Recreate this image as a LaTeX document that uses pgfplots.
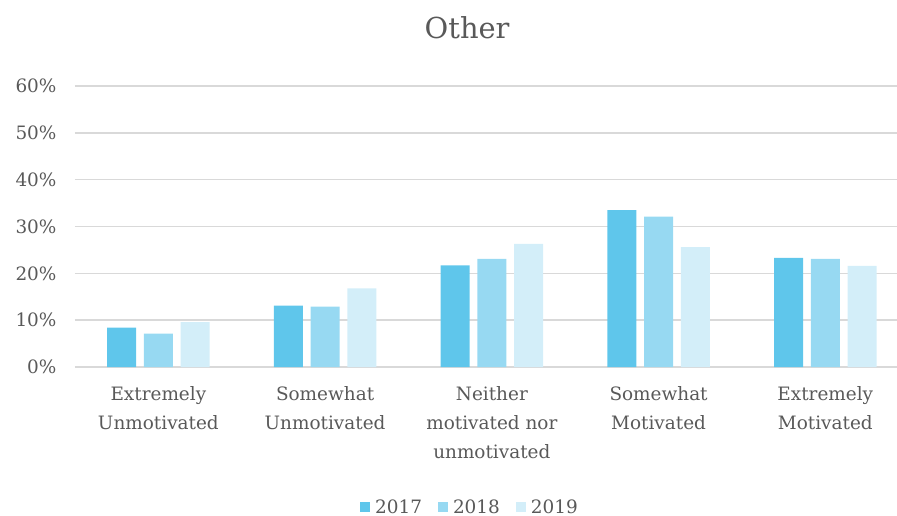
\documentclass[border=0pt]{standalone}
\usepackage{pgfplots}
\pgfplotsset{compat=1.18}
\usepackage{fontspec}
\setmainfont{DejaVu Serif}
\definecolor{cA}{HTML}{5FC6EB}
\definecolor{cB}{HTML}{97D9F2}
\definecolor{cC}{HTML}{D3EEF9}
\definecolor{txt}{HTML}{595959}
\definecolor{grd}{HTML}{D9D9D9}
\begin{document}
\begin{tikzpicture}
\useasboundingbox (-75bp,-149bp) rectangle (822bp,367bp);
\begin{axis}[
  scale only axis, width=822bp, height=281bp,
  xmin=-0.5, xmax=4.43, ymin=0, ymax=60,
  ytick={0,10,...,60},
  yticklabel={\pgfmathprintnumber{\tick}\%},
  /pgf/number format/assume math mode=true,
  xtick={0,1,2,3,4},
  xticklabels={{Extremely\\Unmotivated},{Somewhat\\Unmotivated},{Neither\\motivated nor\\unmotivated},{Somewhat\\Motivated},{Extremely\\Motivated}},
  xticklabel style={align=center, font=\fontsize{18.5}{29}\selectfont, text=txt, yshift=-16bp},
  yticklabel style={font=\fontsize{18.5}{20}\selectfont, text=txt, xshift=-15bp},
  major tick length=0pt,
  axis line style={draw=none},
  ymajorgrids, grid style={grd, line width=1.6bp},
  ybar, bar width=29bp,
  title={Other},
  title style={font=\fontsize{29}{32}\selectfont, text=txt, anchor=center, at={(axis description cs:0.477,1)}, yshift=52bp},
  legend columns=3,
  legend style={draw=none, at={(axis description cs:0.4805,-0.498)}, anchor=center, font=\fontsize{18.5}{20}\selectfont, text=txt, /tikz/every even column/.append style={column sep=14bp}},
  legend image code/.code={\fill[#1] (0bp,-5bp) rectangle (10bp,5bp); \path (13bp,0bp);},
]
\addplot[fill=cA, draw=none, bar shift=-36.7bp] coordinates {(0,8.4) (1,13.1) (2,21.7) (3,33.5) (4,23.3)};
\addplot[fill=cB, draw=none, bar shift=0bp] coordinates {(0,7.1) (1,12.9) (2,23.1) (3,32.1) (4,23.1)};
\addplot[fill=cC, draw=none, bar shift=36.7bp] coordinates {(0,9.6) (1,16.8) (2,26.3) (3,25.6) (4,21.6)};
\legend{2017,2018,2019}
\end{axis}
\end{tikzpicture}
\end{document}
